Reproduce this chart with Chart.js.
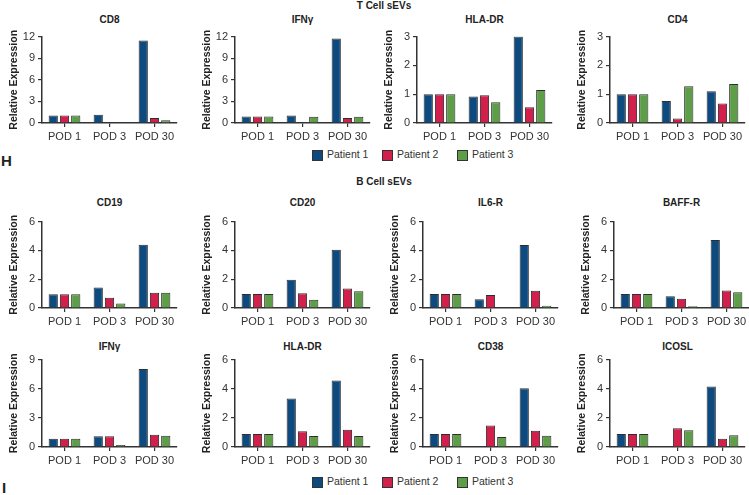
<!DOCTYPE html>
<html>
<head>
<meta charset="utf-8">
<script src="https://cdn.jsdelivr.net/npm/chart.js@4"></script>
<style>
  body { margin: 0; background: #fff; font-family: "Liberation Sans", Arial, sans-serif; color: #222; }
  #page { position: relative; width: 749px; height: 495px; overflow: hidden; }
  .t { position: absolute; white-space: nowrap; }
  .sec { font-weight: bold; font-size: 10px; transform: translateX(-50%); }
  .ptitle { font-weight: bold; font-size: 10px; transform: translateX(-50%); }
  .big { font-weight: bold; font-size: 15px; }
  .leg { font-size: 10.5px; color: #333; }
  .box { position: absolute; width: 9px; height: 9px; border: 1px solid #333; }
  canvas { position: absolute; }
</style>
</head>
<body>
<div id="page"></div>
<script>
const pods = ["POD 1", "POD 3", "POD 30"];
const patients = ["Patient 1", "Patient 2", "Patient 3"];
const colors = ["#0c4a7f", "#d31f4c", "#5e9e49"];

// rows are patient 1, 2, 3; columns POD 1, POD 3, POD 30
const tCD8 = [[1.05, 1.15, 11.45], [1.05, 0, 0.7], [1.05, 0, 0.37]];
const tIFNg = [[0.9, 1.05, 11.75], [0.9, 0, 0.68], [0.9, 0.87, 0.87]];
const tHLADR = [[1.0, 0.92, 3.0], [1.0, 0.96, 0.55], [1.0, 0.72, 1.15]];
const tCD4 = [[1.0, 0.76, 1.1], [1.0, 0.16, 0.68], [1.0, 1.28, 1.35]];

const bCD19 = [[0.95, 1.43, 4.4], [0.95, 0.72, 1.06], [0.95, 0.32, 1.06]];
const bCD20 = [[0.97, 1.96, 4.04], [0.97, 1.03, 1.35], [0.97, 0.58, 1.17]];
const bIL6R = [[0.97, 0.61, 4.37], [0.97, 0.9, 1.2], [0.97, 0, 0.16]];
const bBAFFR = [[0.97, 0.81, 4.72], [0.97, 0.65, 1.21], [0.97, 0.13, 1.1]];
const bIFNg = [[0.84, 1.11, 8.02], [0.84, 1.11, 1.25], [0.84, 0.2, 1.15]];
const bHLADR = [[0.9, 3.33, 4.56], [0.9, 1.08, 1.19], [0.9, 0.76, 0.76]];
const bCD38 = [[0.9, 0.06, 4.03], [0.9, 1.47, 1.11], [0.9, 0.68, 0.77]];
const bICOSL = [[0.9, 0.06, 4.16], [0.9, 1.28, 0.56], [0.9, 1.15, 0.81]];

const panelTitles = [
  ["CD8", "IFN\u03b3", "HLA-DR", "CD4"],
  ["CD19", "CD20", "IL6-R", "BAFF-R"],
  ["IFN\u03b3", "HLA-DR", "CD38", "ICOSL"]
];
const panelData = [
  [tCD8, tIFNg, tHLADR, tCD4],
  [bCD19, bCD20, bIL6R, bBAFFR],
  [bIFNg, bHLADR, bCD38, bICOSL]
];
const yMax = [[12, 12, 3, 3], [6, 6, 6, 6], [9, 6, 6, 6]];
const yStep = [[3, 3, 1, 1], [2, 2, 2, 2], [3, 2, 2, 2]];

// layout
const axisX = [[42, 235, 417, 610], [42, 235, 423, 614], [42, 235, 423, 610]];
const plotTop = [35, 220, 358];
const plotH = [88, 88, 89];
const titleY = [14, 197, 341];
const plotW = 135;
const yW = 34;

const page = document.getElementById("page");

function addText(txt, cls, x, y) {
  const d = document.createElement("div");
  d.className = "t " + cls;
  d.textContent = txt;
  d.style.left = x + "px";
  d.style.top = y + "px";
  page.appendChild(d);
}

function addLegend(y) {
  const boxX = [312, 382, 457];
  patients.forEach(function (p, i) {
    const b = document.createElement("div");
    b.className = "box";
    b.style.left = boxX[i] + "px";
    b.style.top = (y - 5) + "px";
    b.style.background = colors[i];
    page.appendChild(b);
    addText(p, "leg", boxX[i] + 15, y - 7);
  });
}

addText("T Cell sEVs", "sec", 384, 0);
addText("B Cell sEVs", "sec", 384, 176);
addText("H", "big", 1, 152);
addText("I", "big", 2, 479);
addLegend(155);
addLegend(482);

for (let r = 0; r < 3; r++) {
  for (let c = 0; c < 4; c++) {
    const ax = axisX[r][c];
    addText(panelTitles[r][c], "ptitle", ax + plotW / 2, titleY[r]);

    const cv = document.createElement("canvas");
    const w = yW + plotW + 4;
    const h = 8 + plotH[r] + 26;
    cv.width = w;
    cv.height = h;
    cv.style.left = (ax - yW) + "px";
    cv.style.top = (plotTop[r] - 8) + "px";
    page.appendChild(cv);

    const vals = panelData[r][c];
    new Chart(cv, {
      type: "bar",
      data: {
        labels: pods,
        datasets: patients.map(function (p, i) {
          return {
            label: p,
            data: vals[i],
            backgroundColor: colors[i],
            borderColor: "#2e2e2e",
            borderWidth: 1,
            borderSkipped: "start",
            categoryPercentage: 0.75,
            barPercentage: 0.82,
          };
        }),
      },
      options: {
        responsive: false,
        animation: false,
        layout: { padding: { top: 8, right: 4, left: 0, bottom: 0 } },
        plugins: { legend: { display: false }, tooltip: { enabled: false } },
        scales: {
          x: {
            afterFit: function (s) { s.height = 26; },
            grid: { offset: false, drawOnChartArea: false, drawTicks: true, tickLength: 4, color: "#333", lineWidth: 1.2 },
            border: { display: true, color: "#333", width: 1.5 },
            ticks: { color: "#333", font: { family: "Liberation Sans", size: 11 }, padding: 3, maxRotation: 0 },
          },
          y: {
            min: 0,
            max: yMax[r][c],
            afterFit: function (s) { s.width = yW; },
            grid: { drawOnChartArea: false, drawTicks: true, tickLength: 4, color: "#333", lineWidth: 1.2 },
            border: { display: true, color: "#333", width: 1.5 },
            ticks: { stepSize: yStep[r][c], color: "#333", font: { family: "Liberation Sans", size: 11 }, padding: 3 },
            title: {
              display: true,
              text: "Relative Expression",
              color: "#222",
              font: { family: "Liberation Sans", size: 10.5, weight: "bold" },
              padding: { top: 0, bottom: 0 },
            },
          },
        },
      },
    });
  }
}
</script>
</body>
</html>
